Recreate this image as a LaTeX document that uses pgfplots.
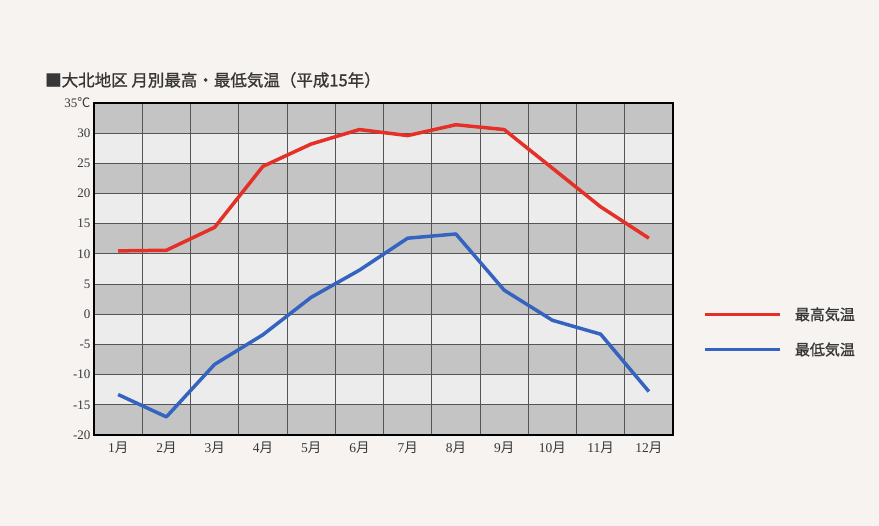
\documentclass[border=0pt]{standalone}
\usepackage{fontspec}
\setmainfont{Liberation Serif}
\newfontfamily\cjk{Noto Sans CJK JP}
\newfontfamily\cjkb[FakeBold=1.2]{Noto Sans CJK JP}
\usepackage{pgfplots}
\pgfplotsset{compat=1.18}
\definecolor{paper}{RGB}{246,243,241}
\definecolor{bandgray}{RGB}{196,196,196}
\definecolor{bandlight}{RGB}{236,236,236}
\definecolor{gridc}{RGB}{85,85,85}
\definecolor{maxred}{RGB}{228,48,38}
\definecolor{minblue}{RGB}{52,100,192}
\definecolor{txt}{RGB}{55,55,55}
\newcommand\tsuki{{\cjk 月}}

\begin{document}
\begin{tikzpicture}
\begin{axis}[
  set layers, clip=false,
  at={(0,0)}, anchor=south west,
  scale only axis, width=579pt, height=332pt,
  xmin=0.5, xmax=12.5, ymin=-20, ymax=35,
  xtick={1,...,12},
  xticklabels={1\tsuki,2\tsuki,3\tsuki,4\tsuki,5\tsuki,6\tsuki,7\tsuki,8\tsuki,9\tsuki,10\tsuki,11\tsuki,12\tsuki},
  minor xtick={1.5,2.5,...,11.5},
  ytick={-20,-15,...,35},
  yticklabels={-20,-15,-10,-5,0,5,10,15,20,25,30,35{\cjk ℃}},
  xmajorgrids=false, xminorgrids=true, ymajorgrids=true,
  major tick length=0pt, minor tick length=0pt,
  grid style={gridc, line width=0.8pt},
  minor grid style={gridc, line width=0.8pt},
  axis line style={black, line width=1.4pt},
  tick label style={text=txt},
  yticklabel style={font=\fontsize{13}{13}\selectfont},
  xticklabel style={font=\fontsize{13.5}{13.5}\selectfont, yshift=-3pt},
  /pgf/number format/assume math mode=true,
  legend style={at={(1.047,0.31)}, anchor=west, draw=none, fill=none,
    font=\cjkb\fontsize{15}{15}\selectfont, text=txt, row sep=17pt},
  legend cell align=left,
  legend image code/.code={\draw[#1, line width=3.5pt] (0pt,0pt) -- (75pt,0pt);
    \path (86pt,0pt);},
]
\begin{pgfonlayer}{axis background}
  \fill[paper] (rel axis cs:-0.16235,-0.27410) rectangle (rel axis cs:1.35579,1.31024);
  \fill[bandlight] (axis cs:0.5,-20) rectangle (axis cs:12.5,35);
  \fill[bandgray] (axis cs:0.5,30) rectangle (axis cs:12.5,35);
  \fill[bandgray] (axis cs:0.5,20) rectangle (axis cs:12.5,25);
  \fill[bandgray] (axis cs:0.5,10) rectangle (axis cs:12.5,15);
  \fill[bandgray] (axis cs:0.5,0) rectangle (axis cs:12.5,5);
  \fill[bandgray] (axis cs:0.5,-10) rectangle (axis cs:12.5,-5);
  \fill[bandgray] (axis cs:0.5,-20) rectangle (axis cs:12.5,-15);
\end{pgfonlayer}
\node[anchor=west, font=\cjkb\fontsize{16.5}{16.5}\selectfont, text=txt, inner sep=0pt]
  at (rel axis cs:-0.08463,1.06928) {■大北地区 月別最高・最低気温（平成15年）};
% 最高気温
\addplot[maxred, line width=3.5pt, line join=round, no marks] coordinates {
  (1,10.5) (2,10.6) (3,14.4) (4,24.5) (5,28.2) (6,30.6)
  (7,29.6) (8,31.4) (9,30.6) (10,24.2) (11,17.8) (12,12.6)
};
% 最低気温
\addplot[minblue, line width=3.5pt, line join=round, no marks] coordinates {
  (1,-13.3) (2,-17.0) (3,-8.3) (4,-3.4) (5,2.8) (6,7.3)
  (7,12.6) (8,13.3) (9,4.0) (10,-1.0) (11,-3.3) (12,-12.8)
};
\legend{最高気温, 最低気温}
\end{axis}
\end{tikzpicture}
\end{document}
